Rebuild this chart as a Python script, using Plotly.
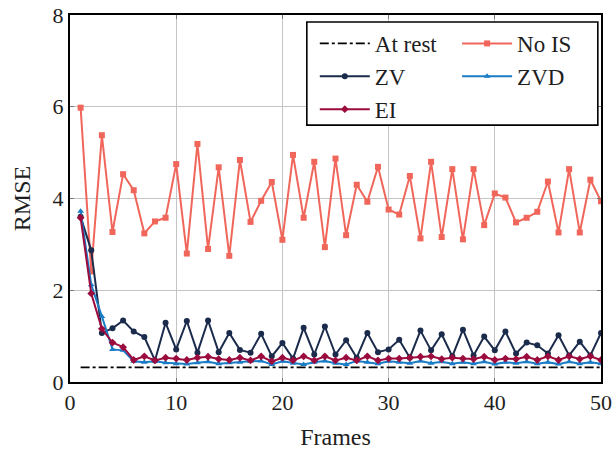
import plotly.graph_objects as go

frames = list(range(1, 51))

no_is = [5.98, 2.41, 5.38, 3.27, 4.53, 4.18, 3.24, 3.50, 3.58, 4.75,
         2.80, 5.19, 2.90, 4.68, 2.75, 4.84, 3.49, 3.95, 4.36, 3.10,
         4.95, 3.58, 4.80, 2.94, 4.87, 3.20, 4.30, 3.93, 4.69, 3.76,
         3.65, 4.49, 3.13, 4.80, 3.16, 4.64, 3.11, 4.64, 3.42, 4.11,
         4.02, 3.48, 3.58, 3.71, 4.37, 3.26, 4.64, 3.26, 4.41, 3.94]

zv = [3.60, 2.87, 1.07, 1.17, 1.34, 1.10, 0.98, 0.47, 1.29, 0.71,
      1.33, 0.64, 1.34, 0.65, 1.07, 0.70, 0.64, 1.05, 0.56, 0.85,
      0.51, 1.18, 0.60, 1.21, 0.60, 0.91, 0.53, 1.07, 0.65, 0.71,
      0.92, 0.53, 1.12, 0.69, 1.04, 0.56, 1.14, 0.58, 0.99, 0.69,
      1.10, 0.62, 0.86, 0.80, 0.62, 1.02, 0.58, 0.88, 0.58, 1.07]

zvd = [3.72, 2.12, 1.43, 0.71, 0.69, 0.45, 0.43, 0.45, 0.42, 0.40,
       0.39, 0.42, 0.44, 0.40, 0.42, 0.43, 0.45, 0.46, 0.38, 0.45,
       0.41, 0.38, 0.43, 0.46, 0.41, 0.38, 0.46, 0.43, 0.40, 0.45,
       0.43, 0.41, 0.46, 0.41, 0.44, 0.40, 0.43, 0.40, 0.44, 0.39,
       0.43, 0.41, 0.44, 0.40, 0.43, 0.39, 0.44, 0.40, 0.43, 0.40]

ei = [3.58, 1.93, 1.16, 0.86, 0.76, 0.48, 0.56, 0.47, 0.53, 0.51,
      0.48, 0.53, 0.55, 0.50, 0.48, 0.53, 0.47, 0.56, 0.45, 0.53,
      0.47, 0.56, 0.47, 0.56, 0.47, 0.53, 0.47, 0.56, 0.47, 0.51,
      0.51, 0.53, 0.55, 0.56, 0.50, 0.53, 0.51, 0.50, 0.55, 0.48,
      0.51, 0.50, 0.55, 0.48, 0.56, 0.48, 0.56, 0.50, 0.56, 0.48]

at_rest = 0.32

x_ticks = [0, 10, 20, 30, 40, 50]
y_ticks = [0, 2, 4, 6, 8]

FONT = "Liberation Serif, DejaVu Serif, serif"
TXT = "#1e1e1e"

fig = go.Figure()

# left legend column: At rest, ZV, EI ; right column: No IS, ZVD
fig.add_trace(go.Scatter(
    x=frames, y=[at_rest] * len(frames), name="At rest", mode="lines",
    legend="legend", legendrank=1,
    line=dict(color="black", width=1.8, dash="dashdot")))

fig.add_trace(go.Scatter(
    x=frames, y=no_is, name="No IS", mode="lines+markers",
    legend="legend2", legendrank=1,
    line=dict(color="#f0665a", width=2),
    marker=dict(symbol="square", size=6, color="#f0665a")))

fig.add_trace(go.Scatter(
    x=frames, y=zv, name="ZV", mode="lines+markers",
    legend="legend", legendrank=2,
    line=dict(color="#1b2b4b", width=2),
    marker=dict(symbol="circle", size=6, color="#1b2b4b")))

fig.add_trace(go.Scatter(
    x=frames, y=zvd, name="ZVD", mode="lines+markers",
    legend="legend2", legendrank=2,
    line=dict(color="#1b7cc6", width=2),
    marker=dict(symbol="triangle-up", size=6, color="#1b7cc6")))

fig.add_trace(go.Scatter(
    x=frames, y=ei, name="EI", mode="lines+markers",
    legend="legend", legendrank=3,
    line=dict(color="#9b0b3e", width=2),
    marker=dict(symbol="diamond", size=6, color="#9b0b3e")))

axis_common = dict(
    showline=True, linecolor="black", linewidth=2, mirror="ticks",
    showgrid=True, gridcolor="#c4c4c4", gridwidth=1,
    zeroline=False, ticks="inside", ticklen=4, tickcolor="#777",
    tickfont=dict(family=FONT, size=22, color=TXT),
    automargin=False,
)

fig.update_xaxes(range=[0, 50], tickvals=x_ticks,
                 title=dict(text="Frames", font=dict(family=FONT, size=24, color=TXT)),
                 **axis_common)
fig.update_yaxes(range=[0, 8], tickvals=y_ticks,
                 title=dict(text="RMSE", font=dict(family=FONT, size=24, color=TXT)),
                 **axis_common)

legend_style = dict(
    orientation="v", yanchor="top", xanchor="left", y=0.981,
    itemwidth=50, bgcolor="rgba(0,0,0,0)", borderwidth=0,
    traceorder="normal",
    font=dict(family=FONT, size=23, color=TXT),
)

fig.update_layout(
    width=614, height=450,
    margin=dict(l=70, r=13, t=15, b=68),
    plot_bgcolor="white", paper_bgcolor="white",
    font=dict(family=FONT, size=22, color=TXT),
    legend=dict(x=0.461, **legend_style),
    legend2=dict(x=0.729, **legend_style),
    shapes=[dict(
        type="rect", xref="paper", yref="paper",
        x0=0.446, x1=0.994, y0=0.700, y1=0.981,
        fillcolor="white", line=dict(color="black", width=1.6),
        layer="above")],
)

fig.write_html("out.html")
